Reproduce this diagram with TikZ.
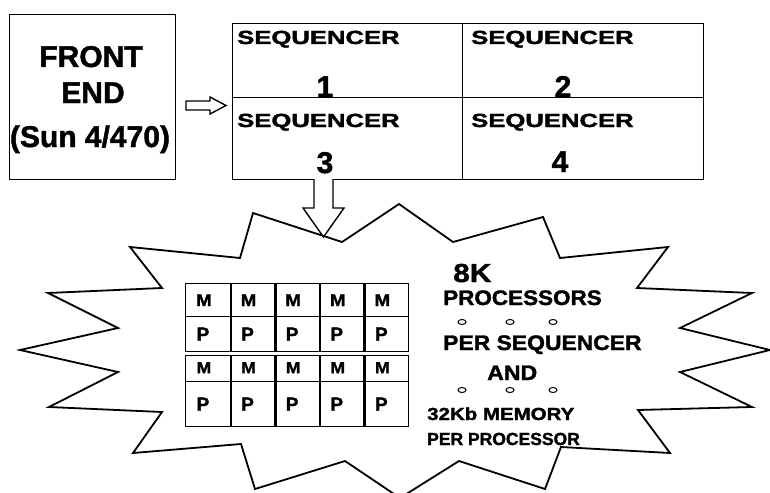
\documentclass[tikz,border=0pt]{standalone}
\usepackage{fontspec}
\setmainfont{Liberation Sans}[BoldFeatures={FakeBold=1.5}]
\usetikzlibrary{shapes.geometric}
\newcommand{\hs}[2]{\scalebox{#1}[1]{#2}}
\newcommand{\fsz}[1]{\fontsize{#1}{#1}\selectfont\bfseries}
\begin{document}
\begin{tikzpicture}[x=1pt,y=-1pt,
  box/.style={draw, line width=1.4pt, inner sep=0pt, rectangle, anchor=north west},
  cellbox/.style={draw, line width=1.3pt, inner sep=0pt, rectangle, anchor=north west},
  txt/.style={inner sep=0pt, text=black},
  barrow/.style={draw, fill=white, line width=1.4pt, line join=miter},
  burst/.style={draw, line width=1.8pt, line join=miter},
  dotmark/.style={ellipse, draw, line width=1pt, minimum width=8pt, minimum height=5pt, inner sep=0pt}]
\useasboundingbox (0,0) rectangle (770,492);

% front end
\node[box, minimum width=166pt, minimum height=165pt] (front) at (9,14) {};
\node[txt, anchor=base] (fe1) at (91,67) {\fsz{30}FRONT};
\node[txt, anchor=base] (fe2) at (93,103) {\fsz{30}END};
\node[txt, anchor=base] (fe3) at (90,147) {\fsz{30}(Sun 4/470)};

% sequencers
\node[box, minimum width=230pt, minimum height=74pt] (s1) at (232,23) {};
\node[box, minimum width=241pt, minimum height=74pt] (s2) at (462,23) {};
\node[box, minimum width=230pt, minimum height=82pt] (s3) at (232,97) {};
\node[box, minimum width=241pt, minimum height=82pt] (s4) at (462,97) {};
\node[txt, anchor=base west] (t1) at (237,44) {\fsz{19}\hs{1.35}{SEQUENCER}};
\node[txt, anchor=base west] (t2) at (471,44) {\fsz{19}\hs{1.35}{SEQUENCER}};
\node[txt, anchor=base west] (t3) at (237,127) {\fsz{19}\hs{1.35}{SEQUENCER}};
\node[txt, anchor=base west] (t4) at (471,127) {\fsz{19}\hs{1.35}{SEQUENCER}};
\node[txt, anchor=base] (n1) at (325,97) {\fsz{30}1};
\node[txt, anchor=base] (n2) at (563,97) {\fsz{30}2};
\node[txt, anchor=base] (n3) at (325,173) {\fsz{30}3};
\node[txt, anchor=base] (n4) at (560,172) {\fsz{30}4};

% starburst
\draw[burst] (253,213) -- (342,242) -- (399,204) -- (453,242) -- (543,217) -- (560,258)
  -- (668,247) -- (637,288) -- (752,293) -- (680,328) -- (770,350) -- (680,372)
  -- (752,407) -- (638,410) -- (670,453) -- (561,447) -- (545,489) -- (459,461)
  -- (400,498) -- (345,461) -- (255,489) -- (241,444) -- (133,453) -- (162,412)
  -- (49,407) -- (118,372) -- (20,350) -- (118,328) -- (48,293) -- (162,288)
  -- (130,247) -- (240,258) -- cycle;

% arrows
\coordinate (rtail) at (186,105.5);
\coordinate (rtip) at (226,105.5);
\draw[barrow] (rtail) ++(0,-4.5) -- ++(24,0) -- ++(0,-4) -- (rtip) -- ++(-16,8.5)
  -- ++(0,-4) -- ++(-24,0) -- cycle;
\coordinate (dtail) at (323.5,179);
\coordinate (dtip) at (323.5,237);
\draw[barrow] (dtail) ++(-9.5,0) -- ++(0,29) -- ++(-11,0) -- (dtip) -- ++(20.5,-29)
  -- ++(-11,0) -- ++(0,-29);

% processor grid
\foreach \i in {0,...,4} {
  \pgfmathsetmacro\xx{185+44.6*\i}
  \node[cellbox, minimum width=44.6pt, minimum height=33pt] (ma\i) at (\xx,283) {};
  \node[cellbox, minimum width=44.6pt, minimum height=35pt] (pa\i) at (\xx,316) {};
  \node[cellbox, minimum width=44.6pt, minimum height=26pt] (mb\i) at (\xx,355) {};
  \node[cellbox, minimum width=44.6pt, minimum height=45pt] (pb\i) at (\xx,381) {};
  \node[txt] (lma\i) at ([xshift=-4pt]ma\i.center) {\fsz{17}\hs{1.1}{M}};
  \node[txt] (lpa\i) at ([xshift=-5pt]pa\i.center) {\fsz{19}P};
  \node[txt] (lmb\i) at ([xshift=-4pt,yshift=1pt]mb\i.center) {\fsz{16}\hs{1.1}{M}};
  \node[txt] (lpb\i) at ([xshift=-5pt]pb\i.center) {\fsz{19}P};
}
\foreach \i in {0,...,3} {
  \draw[line width=2.4pt] (ma\i.north east) -- (pa\i.south east);
  \draw[line width=2.4pt] (mb\i.north east) -- (pb\i.south east);
}

% right text
\node[txt, anchor=base west] (k8) at (453,282) {\fsz{26}\hs{1.15}{8K}};
\node[txt, anchor=base west] (proc) at (443,305) {\fsz{21}\hs{1.07}{PROCESSORS}};
\node[dotmark] (da1) at (462,322) {};
\node[dotmark] (da2) at (510,322) {};
\node[dotmark] (da3) at (553,322) {};
\node[txt, anchor=base west] (perseq) at (443,350) {\fsz{21}\hs{1.09}{PER SEQUENCER}};
\node[txt, anchor=base west] (and) at (487,380) {\fsz{21}\hs{1.1}{AND}};
\node[dotmark] (db1) at (462,390) {};
\node[dotmark] (db2) at (510,390) {};
\node[dotmark] (db3) at (553,390) {};
\node[txt, anchor=base west] (mem) at (427,420) {\fsz{17.5}\hs{1.17}{32Kb MEMORY}};
\node[txt, anchor=base west] (perproc) at (427,445) {\fsz{17.5}PER PROCESSOR};
\end{tikzpicture}
\end{document}
